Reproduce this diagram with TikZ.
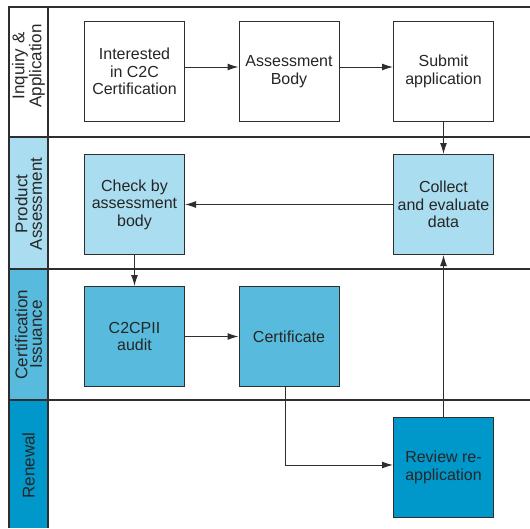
\documentclass[tikz,border=0pt]{standalone}
\usepackage{fontspec}
\setmainfont{Liberation Sans}
\usetikzlibrary{arrows.meta,positioning}
\definecolor{assessblue}{HTML}{A9DDEF}
\definecolor{issueblue}{HTML}{58BBDD}
\definecolor{renewblue}{HTML}{0098CA}
\definecolor{edgegray}{HTML}{2E2E2E}

\begin{document}
\begin{tikzpicture}[
  x=1pt,y=1pt,
  box/.style={draw=edgegray,line width=1pt,align=center,text=black!85,
    font=\fontsize{16}{17.5}\selectfont,minimum width=100pt,minimum height=100pt,
    inner sep=2pt},
  lanetext/.style={rotate=90,align=center,text=black!85,
    font=\fontsize{17}{14.5}\selectfont},
  lane/.style={draw=edgegray,line width=1.2pt},
  arrow/.style={-{Latex[length=11pt,width=7pt]},line width=1pt,draw=edgegray}
]
\useasboundingbox (0,0) rectangle (530,-528);

% lane headers
\fill[assessblue] (9,-137) rectangle (48,-269);
\fill[issueblue] (9,-269) rectangle (48,-400);
\fill[renewblue] (9,-400) rectangle (48,-528);
\draw[lane] (9,-528) -- (9,-7) -- (530,-7);
\draw[lane] (48,-7) -- (48,-528);
\draw[lane] (9,-137) -- (530,-137);
\draw[lane] (9,-269) -- (530,-269);
\draw[lane] (9,-400) -- (530,-400);

\node[lanetext] (inquiry) at (28.5,-66) {Inquiry \&\\Application};
\node[lanetext] (product) at (28.5,-204) {Product\\Assessment};
\node[lanetext] (issuance) at (28.5,-334.5) {Certification\\Issuance};
\node[lanetext] (renewal) at (28.5,-465.5) {Renewal};

% boxes
\node[box,fill=white] (interest) at (134.5,-71.5) {Interested\\in C2C\\Certification};
\node[box,fill=white,right=53.5pt of interest] (body) {Assessment\\Body};
\node[box,fill=white,right=53.5pt of body] (submit) {Submit\\application};
\node[box,fill=assessblue,below=32pt of interest] (check) {Check by\\assessment\\body};
\node[box,fill=assessblue,below=32pt of submit] (collect) {Collect\\and evaluate\\data};
\node[box,fill=issueblue,below=31pt of check] (audit) {C2CPII\\audit};
\node[box,fill=issueblue,right=53.5pt of audit] (cert) {Certificate};
\node[box,fill=renewblue,below=62pt+100pt of collect] (review) {Review re-\\application};

% flow
\draw[arrow] ([yshift=4.5pt]interest.east) -- ([yshift=4.5pt]body.west);
\draw[arrow] ([yshift=4.5pt]body.east) -- ([yshift=4.5pt]submit.west);
\draw[arrow] (submit) -- (collect);
\draw[arrow] (collect) -- (check);
\draw[arrow] (check) -- (audit);
\draw[arrow] (audit) -- (cert);
\draw[arrow] ([xshift=-3.5pt]cert.south) |- ([yshift=2.5pt]review.west);
\draw[arrow] (review) -- (collect);
\end{tikzpicture}
\end{document}
